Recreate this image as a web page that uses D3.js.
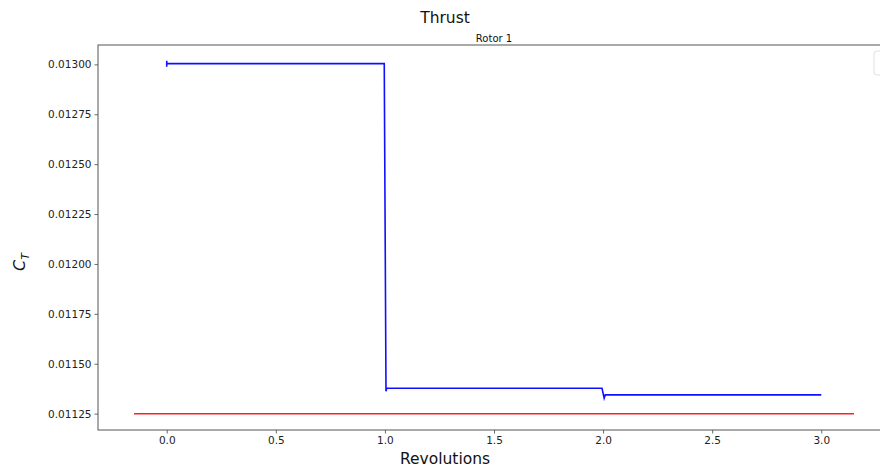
<!DOCTYPE html>
<html><head><meta charset="utf-8">
<script src="https://cdn.jsdelivr.net/npm/d3@7"></script>
<style>body{margin:0;background:#fff}svg{display:block}text{font-family:"DejaVu Sans",sans-serif}</style>
</head><body><div id="chart"></div>
<script>
// Data
const blueRev = [0.0, 0.0, 0.0, 0.003, 0.997, 1.005, 1.008, 1.995, 2.005, 2.01, 3.0];
const blueCT  = [0.013018, 0.012988, 0.0130035, 0.0130035, 0.0130035, 0.011362, 0.011377, 0.011377, 0.011327, 0.011344, 0.011344];
const redRev = [-0.15, 3.15];
const redCT  = [0.01125, 0.01125];
const xTicks = [0.0, 0.5, 1.0, 1.5, 2.0, 2.5, 3.0];
const yTicks = [0.01125, 0.01150, 0.01175, 0.01200, 0.01225, 0.01250, 0.01275, 0.01300];

const W = 880, H = 468;
const m = {left: 98, top: 45, right: 890, bottom: 430};
const svg = d3.select("#chart").append("svg").attr("width", W).attr("height", H);

const x = d3.scaleLinear().domain([-0.315, 3.315]).range([m.left, m.right]);
const y = d3.scaleLinear().domain([0.011168, 0.013097]).range([m.bottom, m.top]);

// axes
const xAxis = d3.axisBottom(x).tickValues(xTicks).tickFormat(d3.format(".1f")).tickSize(3.5).tickPadding(3);
const yAxis = d3.axisLeft(y).tickValues(yTicks).tickFormat(d3.format(".5f")).tickSize(3.5).tickPadding(3);

const gx = svg.append("g").attr("transform", `translate(0,${m.bottom})`).call(xAxis);
const gy = svg.append("g").attr("transform", `translate(${m.left},0)`).call(yAxis);
[gx, gy].forEach(g => {
  g.select(".domain").remove();
  g.selectAll(".tick line").attr("stroke", "#444").attr("stroke-width", 0.8);
  g.selectAll(".tick text").attr("fill", "#222").style("font-size", "10.5px");
});

// frame (spines)
svg.append("rect").attr("x", m.left).attr("y", m.top)
  .attr("width", m.right - m.left).attr("height", m.bottom - m.top)
  .attr("fill", "none").attr("stroke", "#555").attr("stroke-width", 1);

// lines
const line = d3.line().x(d => x(d[0])).y(d => y(d[1]));
svg.append("path").datum(redRev.map((r, i) => [r, redCT[i]]))
  .attr("d", line).attr("fill", "none").attr("stroke", "#ff2020").attr("stroke-width", 1.5);
svg.append("path").datum(blueRev.map((r, i) => [r, blueCT[i]]))
  .attr("d", line).attr("fill", "none").attr("stroke", "#1010ff").attr("stroke-width", 1.6);

// legend frame corner (clipped at the edge)
svg.append("rect").attr("x", 874).attr("y", 51).attr("width", 60).attr("height", 24).attr("rx", 3)
  .attr("fill", "white").attr("stroke", "#e0e0e0").attr("stroke-width", 1);

// titles
svg.append("text").attr("x", 445).attr("y", 23).attr("text-anchor", "middle")
  .style("font-size", "15.5px").attr("fill", "#111").text("Thrust");
svg.append("text").attr("x", 494).attr("y", 42).attr("text-anchor", "middle")
  .style("font-size", "10px").attr("fill", "#111").text("Rotor 1");
svg.append("text").attr("x", 445).attr("y", 464).attr("text-anchor", "middle")
  .style("font-size", "15.5px").attr("fill", "#111").text("Revolutions");
const yl = svg.append("text").attr("transform", "translate(25,262) rotate(-90)")
  .attr("text-anchor", "middle").style("font-size", "16px").attr("fill", "#111");
yl.append("tspan").style("font-style", "italic").text("C");
yl.append("tspan").attr("dy", 4).style("font-size", "11px").style("font-style", "italic").text("T");
</script></body></html>
